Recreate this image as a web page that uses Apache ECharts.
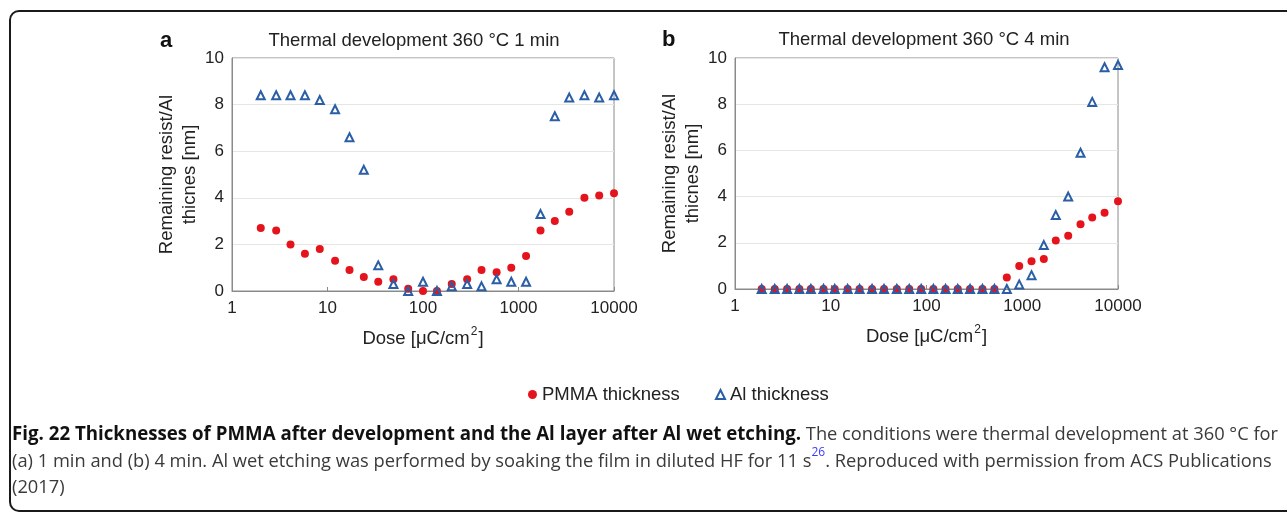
<!DOCTYPE html>
<html>
<head>
<meta charset="utf-8">
<script src="https://cdn.jsdelivr.net/npm/echarts@6/dist/echarts.min.js"></script>
<style>
html,body{margin:0;padding:0;background:#fff;}
#c{width:1287px;height:512px;}
</style>
</head>
<body>
<div id="c"></div>
<script>
// ---- Data ----
var doseA = [2, 2.9, 4.1, 5.8, 8.3, 12, 17, 24, 34, 49, 70, 100, 140, 200, 290, 410, 590, 840, 1200, 1700, 2400, 3400, 4900, 7000, 10000];
var pmmaA = [2.7, 2.6, 2.0, 1.6, 1.8, 1.3, 0.9, 0.6, 0.4, 0.5, 0.1, 0, 0, 0.3, 0.5, 0.9, 0.8, 1.0, 1.5, 2.6, 3.0, 3.4, 4.0, 4.1, 4.2];
var alA   = [8.4, 8.4, 8.4, 8.4, 8.2, 7.8, 6.6, 5.2, 1.1, 0.3, 0, 0.4, 0, 0.2, 0.3, 0.2, 0.5, 0.4, 0.4, 3.3, 7.5, 8.3, 8.4, 8.3, 8.4];

var doseB = [1.9, 2.6, 3.5, 4.7, 6.2, 8.4, 11, 15, 20, 27, 36, 49, 66, 88, 118, 158, 212, 285, 384, 512, 690, 930, 1250, 1680, 2240, 3020, 4060, 5380, 7240, 10000];
var pmmaB = [0, 0, 0, 0, 0, 0, 0, 0, 0, 0, 0, 0, 0, 0, 0, 0, 0, 0, 0, 0, 0.5, 1.0, 1.2, 1.3, 2.1, 2.3, 2.8, 3.1, 3.3, 3.8];
var alB   = [0, 0, 0, 0, 0, 0, 0, 0, 0, 0, 0, 0, 0, 0, 0, 0, 0, 0, 0, 0, 0, 0.2, 0.6, 1.9, 3.2, 4.0, 5.9, 8.1, 9.6, 9.7];

var xTicks = [1, 10, 100, 1000, 10000];
var yTicks = [0, 2, 4, 6, 8, 10];
var titles = ['Thermal development 360 °C 1 min', 'Thermal development 360 °C 4 min'];
var panelLetters = ['a', 'b'];
var seriesNames = ['PMMA thickness', 'Al thickness'];

function zip(xs, ys) { return xs.map(function (x, i) { return [x, ys[i]]; }); }

var FONT = '"Liberation Sans", Arial, Helvetica, sans-serif';
var RED = '#e5131b';
var BLUE = '#2a5ea6';
var AXC = '#8a8a8a';

function xAxis(idx) {
  return {
    type: 'log', logBase: 10, min: 1, max: 10000, gridIndex: idx,
    name: '{a|Dose [μC/cm}{s|2}{a|]}',
    nameLocation: 'middle', nameGap: 35,
    nameTextStyle: {
      rich: {
        a: { fontSize: 18.5, fontFamily: FONT, color: '#222', lineHeight: 22, verticalAlign: 'bottom' },
        s: { fontSize: 12, fontFamily: FONT, color: '#222', lineHeight: 22, verticalAlign: 'top', padding: [0, 1, 0, 1] }
      }
    },
    axisLine: { show: true, lineStyle: { color: AXC, width: 1 } },
    axisTick: { show: true, inside: true, length: 4, lineStyle: { color: AXC } },
    minorTick: { show: false },
    splitLine: { show: false },
    axisLabel: {
      fontSize: 17, fontFamily: FONT, color: '#222', margin: 9,
      formatter: function (v) { return xTicks.indexOf(Math.round(v)) >= 0 ? String(Math.round(v)) : ''; }
    }
  };
}
function yAxis(idx, gap) {
  return {
    type: 'value', min: yTicks[0], max: yTicks[yTicks.length - 1], interval: 2, gridIndex: idx,
    name: 'Remaining resist/Al\nthicnes [nm]',
    nameLocation: 'middle', nameGap: gap, nameRotate: 90,
    nameTextStyle: { fontSize: 18.5, fontFamily: FONT, color: '#222', lineHeight: 23 },
    axisLine: { show: true, lineStyle: { color: AXC, width: 1 } },
    axisTick: { show: false },
    splitLine: { show: true, lineStyle: { color: '#e6e6e6', width: 1 } },
    axisLabel: { fontSize: 17, fontFamily: FONT, color: '#222', margin: 8 }
  };
}
function pmmaSeries(idx, xs, ys) {
  return {
    name: seriesNames[0], type: 'scatter', xAxisIndex: idx, yAxisIndex: idx,
    symbol: 'circle', symbolSize: 8, z: 2,
    itemStyle: { color: RED, opacity: 1 },
    data: zip(xs, ys)
  };
}
function alSeries(idx, xs, ys) {
  return {
    name: seriesNames[1], type: 'scatter', xAxisIndex: idx, yAxisIndex: idx,
    symbol: 'triangle', symbolSize: 8, z: 3,
    itemStyle: { color: 'rgba(255,255,255,0)', borderColor: BLUE, borderWidth: 2, opacity: 1 },
    data: zip(xs, ys)
  };
}

var chart = echarts.init(document.getElementById('c'), null, { renderer: 'canvas' });

var capBold = 'Fig. 22 Thicknesses of PMMA after development and the Al layer after Al wet etching.';
var capRest1 = ' The conditions were thermal development at 360 °C for';
var capLine2a = '(a) 1 min and (b) 4 min. Al wet etching was performed by soaking the film in diluted HF for 11 s';
var capSup = '26';
var capLine2b = '. Reproduced with permission from ACS Publications';
var capLine3 = '(2017)';
var CAPFONT = '"Open Sans", "Noto Sans", sans-serif';
var BOLDSIZE = 18.7;
var CAPSIZE = 18.3;

var option = {
  animation: false,
  backgroundColor: '#ffffff',
  textStyle: { fontFamily: FONT },
  grid: [
    { left: 232, top: 58, width: 382, height: 233, show: true, borderColor: AXC, borderWidth: 1, backgroundColor: 'transparent' },
    { left: 735, top: 58, width: 383, height: 231, show: true, borderColor: AXC, borderWidth: 1, backgroundColor: 'transparent' }
  ],
  xAxis: [xAxis(0), xAxis(1)],
  yAxis: [yAxis(0, 26), yAxis(1, 28)],
  legend: [
    { data: [{ name: seriesNames[0], icon: 'circle' }], left: 523, top: 380, itemWidth: 9, itemHeight: 9, itemGap: 6,
      textStyle: { fontSize: 18.5, fontFamily: FONT, color: '#222' } },
    { data: [{ name: seriesNames[1], icon: 'triangle' }], left: 710, top: 380, itemWidth: 9, itemHeight: 9, itemGap: 6,
      textStyle: { fontSize: 18.5, fontFamily: FONT, color: '#222' } }
  ],
  series: [
    pmmaSeries(0, doseA, pmmaA), alSeries(0, doseA, alA),
    pmmaSeries(1, doseB, pmmaB), alSeries(1, doseB, alB)
  ],
  graphic: [
    { type: 'rect', shape: { x: 10, y: 11, width: 1300, height: 500, r: 9 }, style: { fill: 'none', stroke: '#1a1a1a', lineWidth: 2 }, z: 10, silent: true },
    { type: 'text', x: 414, y: 41, style: { text: titles[0], font: '18.5px ' + FONT, fill: '#222', align: 'center', verticalAlign: 'middle' } },
    { type: 'text', x: 924, y: 40, style: { text: titles[1], font: '18.5px ' + FONT, fill: '#222', align: 'center', verticalAlign: 'middle' } },
    { type: 'text', x: 160, y: 41, style: { text: panelLetters[0], font: 'bold 22px ' + FONT, fill: '#111', align: 'left', verticalAlign: 'middle' } },
    { type: 'text', x: 662, y: 40, style: { text: panelLetters[1], font: 'bold 22px ' + FONT, fill: '#111', align: 'left', verticalAlign: 'middle' } },
    { type: 'text', x: 12, y: 435, style: {
        text: '{b|' + capBold + '}{r|' + capRest1 + '}',
        verticalAlign: 'middle', align: 'left',
        rich: {
          b: { font: 'bold ' + BOLDSIZE + 'px ' + CAPFONT, fill: '#111' },
          r: { font: CAPSIZE + 'px ' + CAPFONT, fill: '#3a3a3a' }
        }
      } },
    { type: 'text', x: 12, y: 459, style: {
        text: '{r|' + capLine2a + '}{s|' + capSup + '}{r|' + capLine2b + '}',
        verticalAlign: 'middle', align: 'left',
        rich: {
          r: { font: CAPSIZE + 'px ' + CAPFONT, fill: '#3a3a3a', lineHeight: 24, verticalAlign: 'bottom' },
          s: { font: '12px ' + CAPFONT, fill: '#3b3bff', lineHeight: 24, verticalAlign: 'top' }
        }
      } },
    { type: 'text', x: 12, y: 488, style: { text: capLine3, font: CAPSIZE + 'px ' + CAPFONT, fill: '#3a3a3a', align: 'left', verticalAlign: 'middle' } }
  ]
};
chart.setOption(option);
</script>
</body>
</html>
